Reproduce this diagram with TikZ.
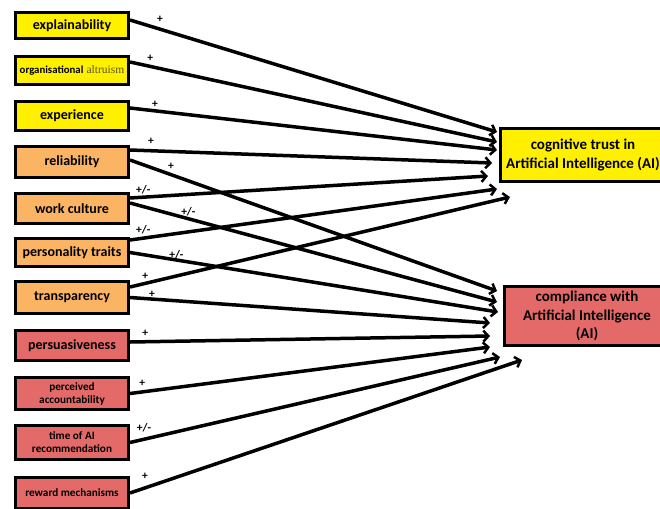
\documentclass[tikz,border=0pt]{standalone}
\usepackage{fontspec}
\setmainfont{Carlito}
\newfontfamily\altserif{Liberation Serif}
\usetikzlibrary{arrows.meta,calc}
\definecolor{yelbox}{RGB}{255,240,0}
\definecolor{orabox}{RGB}{250,180,100}
\definecolor{redbox}{RGB}{228,106,106}
\definecolor{olivetxt}{RGB}{90,85,20}
\tikzset{
  lbox/.style={draw=black, line width=3pt, minimum width=113pt, inner sep=1pt, align=center,
    font=\bfseries\fontsize{14}{15}\selectfont},
  sbox/.style={lbox, font=\bfseries\fontsize{11.2}{13}\selectfont},
  rbox/.style={draw=black, line width=3pt, minimum width=165pt, inner sep=1pt, align=center,
    font=\bfseries\fontsize{15}{18.5}\selectfont},
  arr/.style={line width=3.5pt, -{Straight Barb[length=5pt,width=11pt,line width=2.5pt]}},
  sgn/.style={font=\bfseries\fontsize{11.5}{12}\selectfont, inner sep=0pt}
}
\begin{document}
\begin{tikzpicture}[x=1pt,y=-1pt]
\useasboundingbox (0,0) rectangle (660,508);
% left boxes
\node[lbox, fill=yelbox, minimum height=26pt] (expl) at (72,25.5) {explainability};
\node[lbox, fill=yelbox, minimum height=28pt] (org) at (72,70.5) {{\fontsize{10.8}{12}\selectfont organisational} {\altserif\mdseries\color{olivetxt}\fontsize{11.5}{12}\selectfont altruism}};
\node[lbox, fill=yelbox, minimum height=29pt] (exper) at (72,116) {experience};
\node[lbox, fill=orabox, minimum height=31pt] (rel) at (72,162) {reliability};
\node[lbox, fill=orabox, minimum height=30pt] (work) at (72,208.5) {work culture};
\node[lbox, fill=orabox, minimum height=28pt] (pers) at (72,252.5) {personality traits};
\node[lbox, fill=orabox, minimum height=32pt] (transp) at (72,297.5) {transparency};
\node[lbox, fill=redbox, minimum height=30pt] (persu) at (72,345.5) {persuasiveness};
\node[sbox, fill=redbox, minimum height=32pt] (acc) at (72,393.5) {perceived\\accountability};
\node[sbox, fill=redbox, minimum height=34pt] (time) at (72,442.5) {time of AI\\recommendation};
\node[sbox, fill=redbox, minimum height=31pt] (reward) at (72,493) {reward mechanisms};
% right boxes
\node[rbox, fill=yelbox, minimum height=53pt] (ct) at (583,155) {cognitive trust in\\Artificial Intelligence (AI)};
\node[rbox, fill=redbox, minimum height=59pt] (comp) at (587,316) {compliance with\\Artificial Intelligence\\(AI)};
% arrow end points
\coordinate (c1) at (497,132);
\coordinate (c2) at (497,142);
\coordinate (c3) at (497,150);
\coordinate (c4) at (492,163);
\coordinate (c5) at (488,176);
\coordinate (c6) at (497,189);
\coordinate (c7) at (510,197);
\coordinate (k1) at (497,291);
\coordinate (k2) at (497,302);
\coordinate (k3) at (498,312);
\coordinate (k4) at (490,323);
\coordinate (k5) at (490,336);
\coordinate (k6) at (490,347);
\coordinate (k7) at (500,357);
\coordinate (k8) at (522,360);
% connectors to cognitive trust
\draw[arr] ([yshift=5.5pt]expl.east) -- node[sgn, pos=0.082, yshift=10pt] {+} (c1);
\draw[arr] ([yshift=8.5pt]org.east) -- node[sgn, pos=0.055, yshift=8.5pt] {+} (c2);
\draw[arr] ([yshift=8pt]exper.east) -- node[sgn, pos=0.068, yshift=7pt] {+} (c3);
\draw[arr] ([yshift=12pt]rel.east) -- node[sgn, pos=0.058, yshift=9pt] {+} (c4);
\draw[arr] ([yshift=10.5pt]work.east) -- node[sgn, pos=0.037, yshift=7pt] {+/-} (c5);
\draw[arr] ([yshift=12.5pt]pers.east) -- node[sgn, pos=0.036, yshift=8pt] {+/-} (c6);
\draw[arr] ([yshift=10.5pt]transp.east) -- node[sgn, pos=0.04, yshift=7pt] {+} (c7);
% connectors to compliance
\draw[arr] ([yshift=2pt]rel.east) -- node[sgn, pos=0.112, yshift=8pt] {+} (k1);
\draw[arr] ([yshift=5.5pt]work.east) -- node[sgn, pos=0.159, yshift=7pt] {+/-} (k2);
\draw[arr] (pers.east) -- node[sgn, pos=0.126, yshift=5.5pt] {+/-} (k3);
\draw[arr] (transp.east) -- node[sgn, pos=0.061, yshift=5pt] {+} (k4);
\draw[arr] ([yshift=3.5pt]persu.east) -- node[sgn, pos=0.042, yshift=8.7pt] {+} (k5);
\draw[arr] (acc.east) -- node[sgn, pos=0.034, yshift=8.4pt] {+} (k6);
\draw[arr] (time.east) -- node[sgn, pos=0.038, yshift=11.7pt] {+/-} (k7);
\draw[arr] (reward.east) -- node[sgn, pos=0.038, yshift=12pt] {+} (k8);
\end{tikzpicture}
\end{document}
